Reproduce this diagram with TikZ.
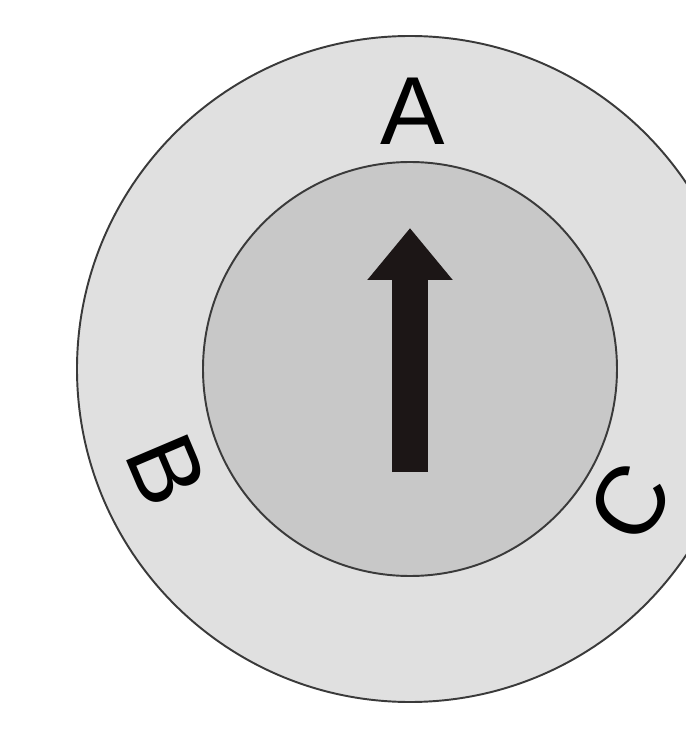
\documentclass[tikz,border=0pt]{standalone}
\usepackage{fontspec}
\setmainfont{Liberation Sans}
\usetikzlibrary{arrows.meta}
\definecolor{ringGray}{HTML}{E0E0E0}
\definecolor{knobGray}{HTML}{C8C8C8}
\definecolor{edgeDark}{HTML}{3A3A3A}
\definecolor{pointerBlack}{HTML}{1C1616}

\begin{document}
\begin{tikzpicture}[
    ring/.style={draw=edgeDark, line width=1.1pt},
    mark label/.style={font=\fontsize{55}{55}\selectfont, inner sep=0pt, text=black},
    pointer/.style={pointerBlack, line width=0.70cm,
                    -{Triangle[length=1.04cm, width=1.64cm]}}
  ]
    \useasboundingbox (-8.2,-7.34) rectangle (5.52,7.38);

    % dial and knob
    \coordinate (dial) at (0,0);
    \fill[white] (-8.2,-7.34) rectangle (5.52,7.38);
    \draw[ring, fill=ringGray] (dial) circle (6.66);
    \draw[ring, fill=knobGray] (dial) circle (4.14);

    % positions
    \node[mark label] (posA) at (0.06,5.16) {A};
    \node[mark label, rotate=-67] (posB) at (-4.86,-2.02) {B};
    \node[mark label, rotate=59] (posC) at (4.40,-2.66) {C};

    % pointer
    \coordinate (tail) at (0,-2.06);
    \coordinate (tip) at (0,2.82);
    \draw[pointer] (tail) -- (tip);
  \end{tikzpicture}
\end{document}
